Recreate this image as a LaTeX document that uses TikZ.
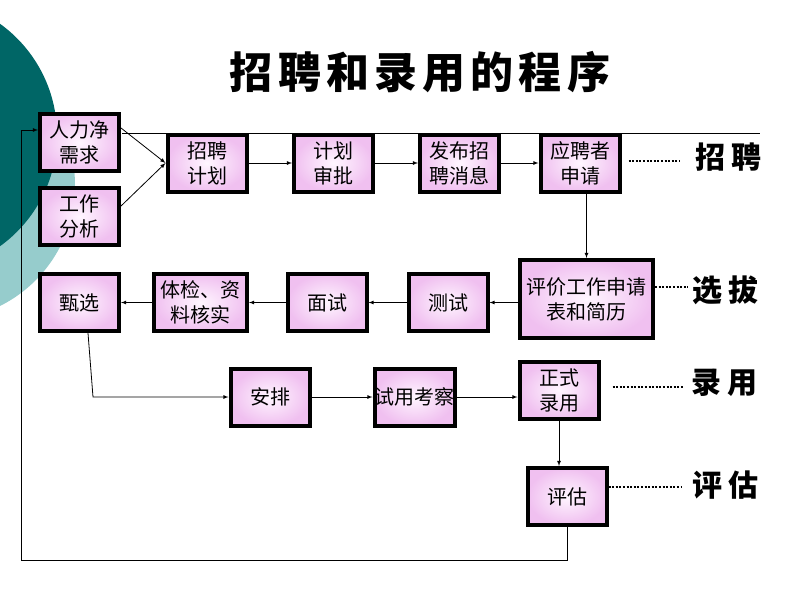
\documentclass[tikz,border=0pt]{standalone}
\usepackage{fontspec}
\setmainfont{Noto Sans CJK SC}
\newfontfamily\ttlfont{Noto Sans CJK SC}[LetterSpace=12]
\newfontfamily\tagfont{Noto Sans CJK SC}[LetterSpace=20]
\usepackage{tikz}
\definecolor{darkteal}{RGB}{0,102,102}
\definecolor{liteteal}{RGB}{150,204,204}
\definecolor{pinkout}{RGB}{240,192,240}
\definecolor{pinkin}{RGB}{255,246,255}

\begin{document}
\begin{tikzpicture}[x=1pt,y=-1pt,>=latex,
  box/.style={draw,line width=4pt,inner color=pinkin,outer color=pinkout,
    minimum width=#1,minimum height=57pt,inner sep=0pt,align=center,
    font=\fontsize{20}{25}\selectfont},
  box/.default=79pt,
  tag/.style={font=\tagfont\bfseries\fontsize{30}{30}\selectfont},
  dots/.style={line width=2pt,dash pattern=on 2pt off 1.6pt},
  conn/.style={line width=0.8pt}]
\useasboundingbox (0,0) rectangle (800,600);
\begin{scope}
\clip (0,0) rectangle (800,600);
\fill[liteteal] (-60,185) circle[radius=135pt];
\fill[darkteal] (-80,135) circle[radius=137pt];
\end{scope}
\node[font=\ttlfont\bfseries\fontsize{43}{43}\selectfont] (ttl) at (420,72) {招聘和录用的程序};
\coordinate (endln) at (760,133);
\coordinate (bend) at (93,397);
\coordinate (fbk) at (21,560);
% line behind the first row
\draw[conn] (122,133) -- (endln);
%
\node[box] (rl) at (79.5,142.5) {人力净\\需求};
\node[box] (fx) at (79.5,216.5) {工作\\分析};
\node[box] (zp) at (207,163) {招聘\\计划};
\node[box] (sp) at (333.5,163) {计划\\审批};
\node[box] (fb) at (459.5,163) {发布招\\聘消息};
\node[box] (yp) at (580,163) {应聘者\\申请};
\node[box=133pt,minimum height=78pt] (pj) at (586.5,299) {评价工作申请\\表和简历};
\node[box] (cs) at (448,302.5) {测试};
\node[box] (ms) at (327,302.5) {面试};
\node[box=93pt] (tj) at (200.5,302.5) {体检、资\\料核实};
\node[box] (zx) at (79.5,302.5) {甄选};
\node[box] (ap) at (270,397) {安排};
\node[box] (sy) at (414.5,397) {试用考察};
\node[box] (zs) at (559,390) {正式\\录用};
\node[box] (pg) at (567,496.5) {评估};
%
\node[tag] (t1) at (728,157) {招聘};
\node[tag] (t2) at (725,290) {选拔};
\node[tag] (t3) at (724,383) {录用};
\node[tag] (t4) at (725,485) {评估};
%
\draw[->,conn] ([yshift=14.5pt]rl.east) -- (zp.west);
\draw[->,conn] ([yshift=10.5pt]fx.east) -- (zp.west);
\draw[->,conn] (zp) -- (sp);
\draw[->,conn] (sp) -- (fb);
\draw[->,conn] (fb) -- (yp);
\draw[->,conn] (pj.north |- yp.south) -- (pj.north);
\draw[->,conn] (pj.west |- cs) -- (cs);
\draw[->,conn] (cs) -- (ms);
\draw[->,conn] (ms) -- (tj);
\draw[->,conn] (tj) -- (zx);
\draw[->,conn] ([xshift=8.5pt]zx.south) -- (bend) -- (ap);
\draw[->,conn] (ap) -- (sy);
\draw[->,conn] (sy) -- (zs.west |- sy);
\draw[->,conn] (zs.south) -- (zs.south |- pg.north);
\draw[->,conn] (pg.south) |- (fbk) |- ([yshift=12.5pt]rl.west);
%
\draw[dots] ([xshift=7pt,yshift=2pt]yp.east) -- ([xshift=-12pt,yshift=2pt]yp.east -| t1.west);
\draw[dots] ([yshift=12pt]pj.east) -- ([yshift=12pt]pj.east -| t2.west);
\draw[dots] ([xshift=12pt,yshift=3pt]zs.east) -- ([xshift=-4pt,yshift=3pt]zs.east -| t3.west);
\draw[dots] ([yshift=9.5pt]pg.east) -- ([xshift=-6pt,yshift=9.5pt]pg.east -| t4.west);
\end{tikzpicture}
\end{document}
